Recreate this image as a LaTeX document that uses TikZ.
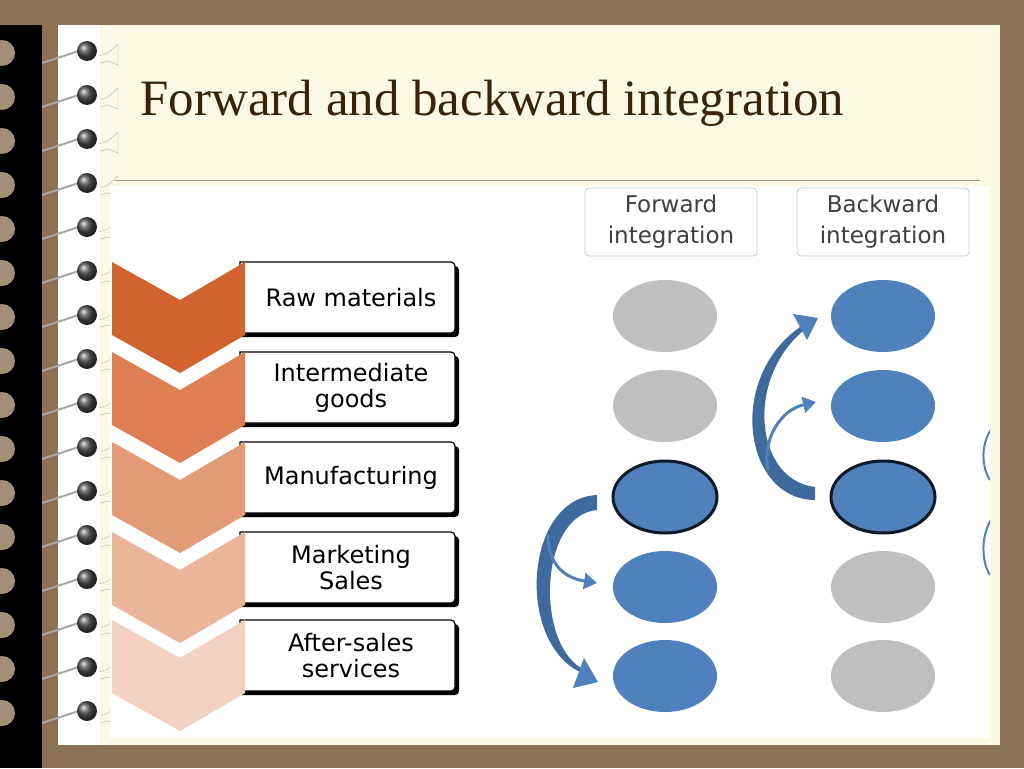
\documentclass[tikz,border=0pt]{standalone}
\usepackage{fontspec}
\setmainfont{Liberation Serif}
\newfontfamily\dsans{DejaVu Sans}
\usetikzlibrary{arrows.meta,shapes.geometric}
\definecolor{bg}{HTML}{8C7155}
\definecolor{cream}{HTML}{FBF9E3}
\definecolor{ttl}{HTML}{3A2408}
\definecolor{bl}{HTML}{4F81BD}
\definecolor{bld}{HTML}{3E6A9E}
\definecolor{gr}{HTML}{BFBFBF}
\definecolor{c1}{HTML}{D2632E}
\definecolor{c2}{HTML}{DD7F52}
\definecolor{c3}{HTML}{E39A76}
\definecolor{c4}{HTML}{EBB59A}
\definecolor{c5}{HTML}{F2D1C0}
\tikzset{x=1pt,y=-1pt,
 lbl/.style={font=\dsans\fontsize{24}{26}\selectfont,align=center,text=black},
 hdr/.style={draw=bl!40,rounded corners=4pt,line width=0.8pt,minimum width=172pt,minimum height=68pt,font=\dsans\fontsize{23}{31}\selectfont,text=black!75,align=center,inner sep=0pt},
 ell/.style={ellipse,minimum width=104pt,minimum height=72pt,inner sep=0pt},
 gray/.style={ell,fill=gr},
 blue/.style={ell,fill=bl},
 bluo/.style={ell,fill=bl,draw=black!80!bl,line width=3pt},
 sarr/.style={draw=bl,line width=3pt,-{Triangle[length=13pt,width=16pt]}},
}
\begin{document}
\begin{tikzpicture}
\useasboundingbox (0,0) rectangle (1024,768);
\fill[bg] (0,0) rectangle (1024,768);
\fill[black] (0,25) rectangle (42,768);
\fill[white] (58,25) rectangle (100,745);
\fill[cream] (100,25) rectangle (1000,745);
\foreach \i in {0,...,15}{
  \pgfmathsetmacro\yy{53+44*\i}
  \fill[bg!80!white] (2,\yy) circle (13);
  \draw[gray!70,line width=2pt] (42,\yy+10) -- (85,\yy-4);
  \shade[ball color=black!70] (87,\yy-2) circle (10);
  \draw[gray!60,line width=0.4pt] (100,\yy+3) -- (108,\yy) -- (118,\yy-9) -- (118,\yy+12) -- (108,\yy+8) -- (100,\yy+10);
}
\node[anchor=base west,text=ttl,font=\fontsize{51}{54}\selectfont] (title) at (137,115) {Forward and backward integration};
\draw[bg!70,line width=0.8pt] (115,180) -- (980,180);
\fill[white] (110,186) rectangle (990,738);
% chevrons and boxes
\foreach \c/\t/\txt [count=\k] in {c1/262/Raw materials,c2/352/{Intermediate\\goods},c3/442/Manufacturing,c4/532/{Marketing\\Sales},c5/620/{After-sales\\services}}{
  \fill[black] (240,\t+4) -- (453,\t+4) [rounded corners=4pt]-- (459,\t+4) -- (459,\t+75) [sharp corners]-- (240,\t+75) -- cycle;
  \draw[black,line width=1.2pt,fill=white] (240,\t) -- (450,\t) [rounded corners=4pt]-- (455,\t) -- (455,\t+71) [sharp corners]-- (240,\t+71) -- cycle;
  \fill[\c] (112,\t) -- (180,\t+38) -- (245,\t) -- (245,\t+73) -- (180,\t+111) -- (112,\t+73) -- cycle;
  \node[lbl] (b\k) at (351,\t+36) {\txt};
}
\node[hdr] (hf) at (671,222) {Forward\\integration};
\node[hdr] (hb) at (883,222) {Backward\\integration};
% ellipses
\node[gray] (f1) at (665,316) {};
\node[gray] (f2) at (665,406) {};
\node[bluo] (f3) at (665,497) {};
\node[blue] (f4) at (665,587) {};
\node[blue] (f5) at (665,676) {};
\node[blue] (g1) at (883,316) {};
\node[blue] (g2) at (883,406) {};
\node[bluo] (g3) at (883,497) {};
\node[gray] (g4) at (883,587) {};
\node[gray] (g5) at (883,676) {};
% forward arrows
\fill[bld] (597,495) .. controls (525,498) and (515,640) .. (580,672) -- (581,668) .. controls (535,640) and (540,515) .. (597,510) -- cycle;
\fill[bl] (584,658) -- (598,682) -- (573,688) -- cycle;
\draw[sarr] (548,535) .. controls (548,565) and (565,578) .. (597,583);
% backward arrows
\fill[bld] (815,500) .. controls (745,500) and (725,380) .. (800,327) -- (803,331) .. controls (745,380) and (755,480) .. (815,487) -- cycle;
\fill[bl] (793,314) -- (818,318) -- (807,340) -- cycle;
\draw[sarr] (768,470) .. controls (762,440) and (780,410) .. (816,402);
% clipped arcs at right
\begin{scope}
\clip (970,400) rectangle (990,600);
\draw[bl,line width=2pt] (1000,420) .. controls (980,435) and (980,465) .. (990,480);
\draw[bl,line width=2pt] (1000,510) .. controls (980,525) and (980,560) .. (990,575);
\end{scope}
\end{tikzpicture}
\end{document}
